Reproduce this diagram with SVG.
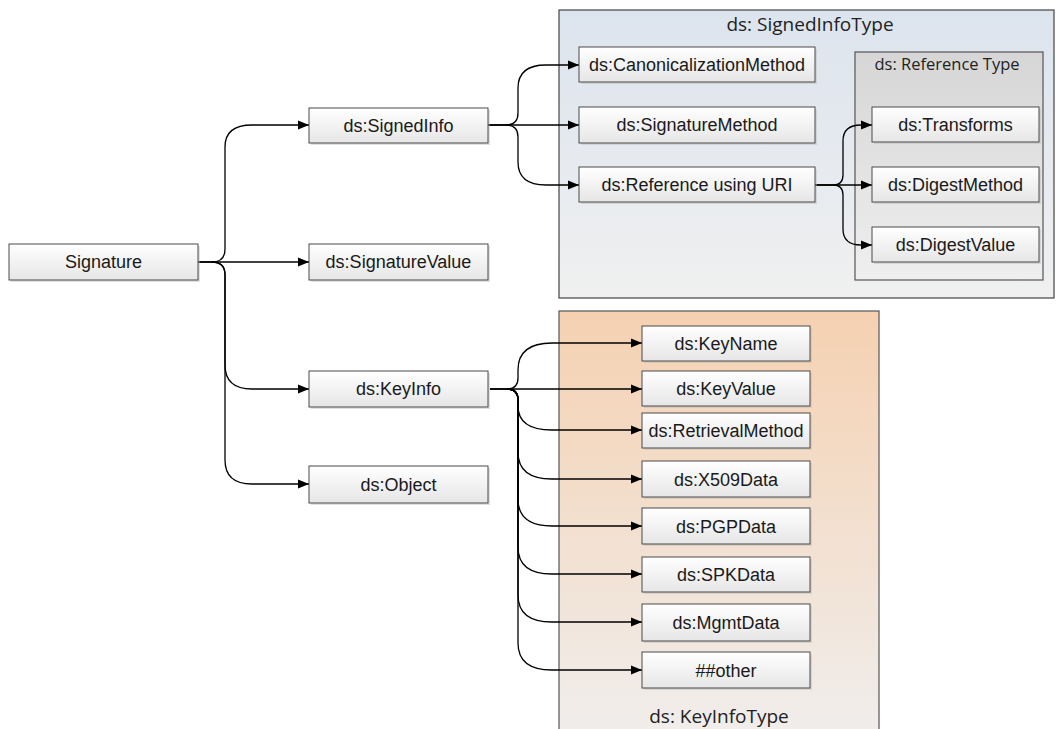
<svg xmlns="http://www.w3.org/2000/svg" width="1056" height="729" viewBox="0 0 1056 729">
<defs>
<linearGradient id="gNode" x1="0" y1="0" x2="0" y2="1">
<stop offset="0" stop-color="#ffffff"/><stop offset="1" stop-color="#e6e6e6"/>
</linearGradient>
<linearGradient id="gSig" x1="0" y1="0" x2="0" y2="1">
<stop offset="0" stop-color="#dce4ee"/><stop offset="1" stop-color="#f0f0f0"/>
</linearGradient>
<linearGradient id="gRef" x1="0" y1="0" x2="0" y2="1">
<stop offset="0" stop-color="#d6d6d6"/><stop offset="1" stop-color="#efefef"/>
</linearGradient>
<linearGradient id="gKey" x1="0" y1="0" x2="0" y2="1">
<stop offset="0" stop-color="#f5d1b1"/><stop offset="1" stop-color="#f0eeed"/>
</linearGradient>
<marker id="arr" viewBox="0 0 11 10" refX="11" refY="5" markerWidth="11" markerHeight="10" markerUnits="userSpaceOnUse" orient="auto">
<path d="M0,0.5 L11,5 L0,9.5 Z" fill="#000"/>
</marker>
</defs>
<style>
.node rect.b{fill:url(#gNode);stroke:#4a4a4a;stroke-width:1}
.node rect.s{fill:#bbbbbb;opacity:0.45}
.node text{font-family:"Liberation Sans",Arial,sans-serif;font-size:18px;fill:#1a1a1a;text-anchor:middle}
.title{font-family:"Open Sans","Noto Sans",sans-serif;fill:#222;text-anchor:middle}
.conn path{fill:none;stroke:#000;stroke-width:1.3}
</style>
<rect width="1056" height="729" fill="#ffffff"/>

<g id="SignedInfoType">
<rect x="559" y="10" width="495" height="288" fill="url(#gSig)" stroke="#444" stroke-width="1.2"/>
<text class="title" x="810" y="31" font-size="19">ds: SignedInfoType</text>
</g>
<g id="ReferenceType">
<rect x="855" y="52" width="188" height="228" fill="url(#gRef)" stroke="#555" stroke-width="1.2"/>
<text class="title" x="947" y="70" font-size="16.5">ds: Reference Type</text>
</g>
<g id="KeyInfoType">
<rect x="559" y="311" width="320" height="430" fill="url(#gKey)" stroke="#555" stroke-width="1.2"/>
<text class="title" x="719" y="723" font-size="19">ds: KeyInfoType</text>
</g>

<g class="conn" id="connectors">
<path d="M198,262 H212 Q225,262 225,249 V147 Q225,125 252,125 H309" marker-end="url(#arr)"/>
<path d="M198,262 H309" marker-end="url(#arr)"/>
<path d="M212,262 Q225,262 225,275 V365 Q225,389 252,389 H309" marker-end="url(#arr)"/>
<path d="M212,262 Q225,262 225,275 V460 Q225,484 252,484 H309" marker-end="url(#arr)"/>

<path d="M488,125 H506 Q518,125 518,113 V88 Q518,65 546,65 H579" marker-end="url(#arr)"/>
<path d="M488,125 H579" marker-end="url(#arr)"/>
<path d="M506,125 Q518,125 518,137 V162 Q518,185 546,185 H579" marker-end="url(#arr)"/>

<path d="M815,185 H833 Q843,185 843,175 V141 Q843,125 861,125 H872" marker-end="url(#arr)"/>
<path d="M815,185 H872" marker-end="url(#arr)"/>
<path d="M833,185 Q843,185 843,195 V229 Q843,245 861,245 H872" marker-end="url(#arr)"/>

<path d="M490,389 H507 Q518,389 518,378 V370 Q518,343 552,343 H642" marker-end="url(#arr)"/>
<path d="M490,389 H642" marker-end="url(#arr)"/>
<path d="M507,389 Q518,389 518,400 V406 Q518,430 552,430 H642" marker-end="url(#arr)"/>
<path d="M507,389 Q518,389 518,400 V452 Q518,479 552,479 H642" marker-end="url(#arr)"/>
<path d="M507,389 Q518,389 518,400 V499 Q518,526 552,526 H642" marker-end="url(#arr)"/>
<path d="M507,389 Q518,389 518,400 V547 Q518,574 552,574 H642" marker-end="url(#arr)"/>
<path d="M507,389 Q518,389 518,400 V595 Q518,622 552,622 H642" marker-end="url(#arr)"/>
<path d="M507,389 Q518,389 518,400 V643 Q518,670 552,670 H642" marker-end="url(#arr)"/>
</g>

<g class="node" id="n-signature"><rect class="s" x="11" y="246" width="189" height="36"/><rect class="b" x="9" y="244" width="189" height="36"/><text x="103.5" y="268">Signature</text></g>
<g class="node" id="n-signedinfo"><rect class="s" x="311" y="110" width="179" height="35"/><rect class="b" x="309" y="108" width="179" height="35"/><text x="398.5" y="131.5">ds:SignedInfo</text></g>
<g class="node" id="n-signaturevalue"><rect class="s" x="311" y="246" width="179" height="36"/><rect class="b" x="309" y="244" width="179" height="36"/><text x="398.5" y="268">ds:SignatureValue</text></g>
<g class="node" id="n-keyinfo"><rect class="s" x="311" y="373" width="179" height="36"/><rect class="b" x="309" y="371" width="179" height="36"/><text x="398.5" y="395">ds:KeyInfo</text></g>
<g class="node" id="n-object"><rect class="s" x="311" y="468" width="179" height="37"/><rect class="b" x="309" y="466" width="179" height="37"/><text x="398.5" y="490.5">ds:Object</text></g>

<g class="node" id="n-canon"><rect class="s" x="581" y="49" width="236" height="35"/><rect class="b" x="579" y="47" width="236" height="35"/><text x="697" y="71">ds:CanonicalizationMethod</text></g>
<g class="node" id="n-sigmethod"><rect class="s" x="581" y="109" width="236" height="36"/><rect class="b" x="579" y="107" width="236" height="36"/><text x="697" y="131">ds:SignatureMethod</text></g>
<g class="node" id="n-reference"><rect class="s" x="581" y="169" width="236" height="35"/><rect class="b" x="579" y="167" width="236" height="35"/><text x="697" y="191">ds:Reference using URI</text></g>

<g class="node" id="n-transforms"><rect class="s" x="874" y="109" width="167" height="35"/><rect class="b" x="872" y="107" width="167" height="35"/><text x="955.5" y="131">ds:Transforms</text></g>
<g class="node" id="n-digestmethod"><rect class="s" x="874" y="169" width="167" height="35"/><rect class="b" x="872" y="167" width="167" height="35"/><text x="955.5" y="191">ds:DigestMethod</text></g>
<g class="node" id="n-digestvalue"><rect class="s" x="874" y="229" width="167" height="35"/><rect class="b" x="872" y="227" width="167" height="35"/><text x="955.5" y="251">ds:DigestValue</text></g>

<g class="node" id="n-keyname"><rect class="s" x="644" y="328" width="168" height="35"/><rect class="b" x="642" y="326" width="168" height="35"/><text x="726" y="350">ds:KeyName</text></g>
<g class="node" id="n-keyvalue"><rect class="s" x="644" y="373" width="168" height="35"/><rect class="b" x="642" y="371" width="168" height="35"/><text x="726" y="395">ds:KeyValue</text></g>
<g class="node" id="n-retrieval"><rect class="s" x="644" y="415" width="168" height="35"/><rect class="b" x="642" y="413" width="168" height="35"/><text x="726" y="437">ds:RetrievalMethod</text></g>
<g class="node" id="n-x509"><rect class="s" x="644" y="463" width="168" height="36"/><rect class="b" x="642" y="461" width="168" height="36"/><text x="726" y="485.5">ds:X509Data</text></g>
<g class="node" id="n-pgp"><rect class="s" x="644" y="510" width="168" height="36"/><rect class="b" x="642" y="508" width="168" height="36"/><text x="726" y="532.5">ds:PGPData</text></g>
<g class="node" id="n-spk"><rect class="s" x="644" y="559" width="168" height="35"/><rect class="b" x="642" y="557" width="168" height="35"/><text x="726" y="581">ds:SPKData</text></g>
<g class="node" id="n-mgmt"><rect class="s" x="644" y="606" width="168" height="37"/><rect class="b" x="642" y="604" width="168" height="37"/><text x="726" y="628.5">ds:MgmtData</text></g>
<g class="node" id="n-other"><rect class="s" x="644" y="654" width="168" height="36"/><rect class="b" x="642" y="652" width="168" height="36"/><text x="726" y="676.5">##other</text></g>
</svg>
